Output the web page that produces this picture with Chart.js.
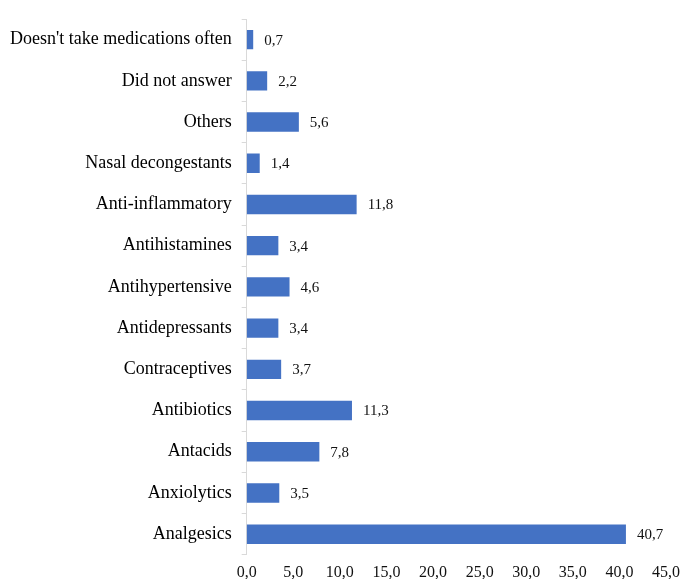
<!DOCTYPE html>
<html>
<head>
<meta charset="utf-8">
<script src="https://cdn.jsdelivr.net/npm/chart.js@4/dist/chart.umd.min.js"></script>
<style>
    body { margin: 0; background: #fff; }
    #wrap { width: 683px; height: 579px; position: relative; }
</style>
</head>
<body>
<div id="wrap"><canvas id="medChart"></canvas></div>
<script>
// Medication categories (top to bottom)
const categories = [
    "Doesn't take medications often",
    'Did not answer',
    'Others',
    'Nasal decongestants',
    'Anti-inflammatory',
    'Antihistamines',
    'Antihypertensive',
    'Antidepressants',
    'Contraceptives',
    'Antibiotics',
    'Antacids',
    'Anxiolytics',
    'Analgesics'
];
const percentages = [0.7, 2.2, 5.6, 1.4, 11.8, 3.4, 4.6, 3.4, 3.7, 11.3, 7.8, 3.5, 40.7];
const xMin = 0;
const xMax = 45;
const xStep = 5;

const serif = '"Liberation Serif", "Times New Roman", serif';
const commaFmt = (v) => Number(v).toFixed(1).replace('.', ',');

// Value labels at the end of each bar
const valueLabels = {
    id: 'valueLabels',
    afterDatasetsDraw(chart) {
        const ctx = chart.ctx;
        const meta = chart.getDatasetMeta(0);
        ctx.save();
        ctx.font = '15px ' + serif;
        ctx.fillStyle = '#111';
        ctx.textAlign = 'left';
        ctx.textBaseline = 'middle';
        meta.data.forEach((bar, i) => {
            ctx.fillText(commaFmt(percentages[i]), bar.x + 11, bar.y + 1);
        });
        ctx.restore();
    }
};

const ctx = document.getElementById('medChart');

new Chart(ctx, {
    type: 'bar',
    data: {
        labels: categories,
        datasets: [{
            data: percentages,
            backgroundColor: '#4472C4',
            borderWidth: 0,
            barPercentage: 0.47,
            categoryPercentage: 1.0
        }]
    },
    options: {
        indexAxis: 'y',
        responsive: true,
        maintainAspectRatio: false,
        animation: false,
        layout: {
            padding: { top: 2, right: 0, bottom: -11, left: 0 }
        },
        plugins: {
            legend: { display: false },
            tooltip: { enabled: false }
        },
        scales: {
            x: {
                min: xMin,
                max: xMax,
                grid: { display: false, drawTicks: false },
                border: { display: false },
                afterFit: (scale) => { scale.paddingRight = 17; },
                ticks: {
                    stepSize: xStep,
                    color: '#111',
                    padding: 8,
                    maxRotation: 0,
                    font: { family: serif, size: 16 },
                    callback: (v) => commaFmt(v)
                }
            },
            y: {
                grid: {
                    drawOnChartArea: false,
                    drawTicks: true,
                    tickLength: 5,
                    color: '#d9d9d9'
                },
                border: { display: true, color: '#d9d9d9' },
                ticks: {
                    color: '#000',
                    padding: 10,
                    font: { family: serif, size: 18, lineHeight: 1.0 }
                }
            }
        }
    },
    plugins: [valueLabels]
});
</script>
</body>
</html>
